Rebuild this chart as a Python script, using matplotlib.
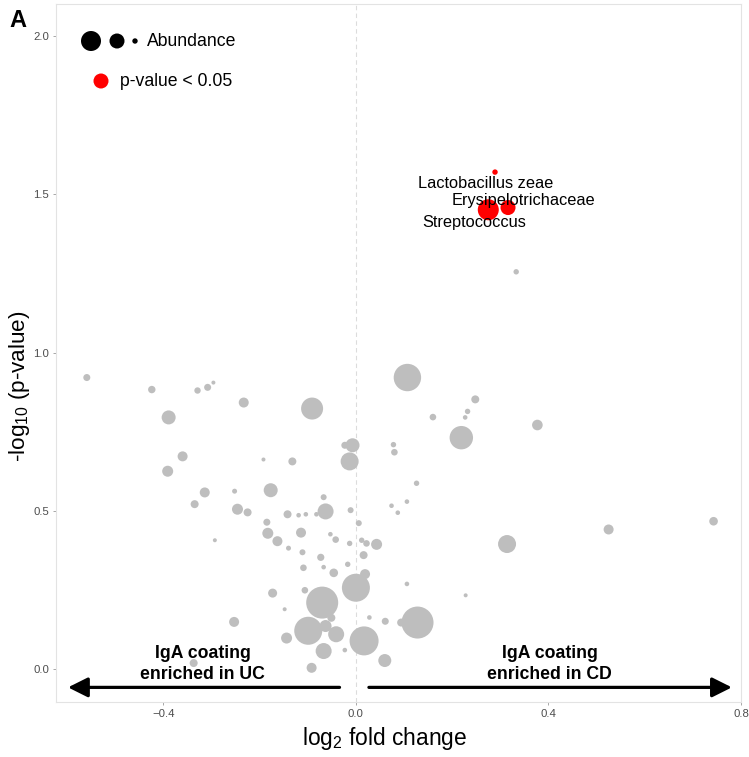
import matplotlib
matplotlib.use("Agg")
import matplotlib.pyplot as plt
import numpy as np

plt.rcParams['font.family'] = ['Liberation Sans', 'DejaVu Sans']

# ---- data: non-significant taxa (gray) ----
log2fc = [-0.559, -0.424, -0.329, -0.308, -0.296, -0.233, -0.091, -0.389, -0.360, -0.391,
          -0.192, -0.132, -0.023, -0.007, -0.013, -0.314, -0.335, -0.252, -0.177, -0.067,
          -0.246, -0.225, -0.142, -0.119, -0.104, -0.082, -0.063, -0.011, 0.006, -0.185,
          -0.183, -0.163, -0.114, -0.053, -0.042, -0.013, -0.293, -0.140, -0.111, -0.073,
          0.012, 0.022, 0.043, 0.016, -0.109, -0.067, -0.046, -0.017, 0.019, 0.000,
          -0.173, -0.106, -0.070, -0.051, -0.148, -0.253, -0.099, -0.063, -0.041, -0.144,
          -0.067, -0.092, -0.023, 0.017, 0.060, 0.028, 0.061, 0.094, 0.128, 0.106,
          0.228, -0.337, 0.107, 0.248, 0.232, 0.227, 0.160, 0.377, 0.219, 0.078,
          0.080, 0.126, 0.074, 0.106, 0.087, 0.525, 0.743, 0.314, 0.333]
neglog10p = [0.921, 0.883, 0.880, 0.890, 0.905, 0.842, 0.823, 0.795, 0.672, 0.625,
             0.662, 0.656, 0.707, 0.707, 0.656, 0.558, 0.521, 0.562, 0.565, 0.543,
             0.505, 0.495, 0.489, 0.486, 0.489, 0.489, 0.498, 0.502, 0.461, 0.464,
             0.429, 0.404, 0.431, 0.426, 0.409, 0.397, 0.407, 0.382, 0.369, 0.353,
             0.407, 0.397, 0.394, 0.360, 0.320, 0.322, 0.304, 0.331, 0.300, 0.257,
             0.240, 0.249, 0.210, 0.162, 0.189, 0.149, 0.121, 0.136, 0.110, 0.098,
             0.057, 0.004, 0.060, 0.089, 0.027, 0.163, 0.151, 0.147, 0.147, 0.269,
             0.233, 0.019, 0.921, 0.852, 0.814, 0.795, 0.796, 0.771, 0.731, 0.709,
             0.685, 0.587, 0.516, 0.529, 0.494, 0.441, 0.467, 0.395, 1.255]
abundance = [0.77, 0.86, 0.64, 0.77, 0.25, 1.56, 7.56, 3.06, 1.56, 1.89,
             0.25, 1.00, 0.77, 3.06, 5.06, 1.56, 1.00, 0.39, 3.06, 0.56,
             1.89, 1.00, 1.00, 0.33, 0.33, 0.33, 4.00, 0.56, 0.56, 0.77,
             1.89, 1.56, 1.56, 0.33, 0.68, 0.46, 0.25, 0.39, 0.56, 0.81,
             0.46, 0.68, 1.89, 1.00, 0.68, 0.33, 1.16, 0.46, 1.56, 12.25,
             1.27, 0.68, 16.00, 1.00, 0.25, 1.56, 12.25, 2.25, 4.00, 1.89,
             4.00, 1.56, 0.33, 13.14, 2.64, 0.33, 0.77, 1.00, 16.00, 0.33,
             0.25, 1.00, 11.73, 1.00, 0.46, 0.33, 0.68, 1.76, 8.56, 0.46,
             0.68, 0.46, 0.33, 0.33, 0.33, 1.56, 1.16, 5.06, 0.46]

# ---- significant taxa (red) ----
sig_names = ['Lactobacillus zeae', 'Streptococcus', 'Erysipelotrichaceae']
sig_log2fc = [0.289, 0.275, 0.316]
sig_neglog10p = [1.570, 1.451, 1.458]
sig_abundance = [0.46, 6.89, 3.52]

# label positions (data coords)
label_x = [0.2686, 0.2468, 0.3486]
label_y = [1.5205, 1.398, 1.4647]

x_ticks = [-0.4, 0.0, 0.4, 0.8]
y_ticks = [0.0, 0.5, 1.0, 1.5, 2.0]

SIZE_K = 33.2  # points^2 per abundance unit

fig = plt.figure(figsize=(7.49, 7.57), dpi=100)
ax = fig.add_axes([56/749, 1-702/757, (741-56)/749, (702-4)/757])

ax.axvline(0, color='#dcdcdc', lw=0.8, ls=(0, (4, 3)), zorder=0)

ax.scatter(log2fc, neglog10p, s=np.array(abundance)*SIZE_K, color='#bebebe',
           edgecolors='none', zorder=2)
ax.scatter(sig_log2fc, sig_neglog10p, s=np.array(sig_abundance)*SIZE_K, color='#ff0000',
           edgecolors='none', zorder=3)
for name, lx, ly in zip(sig_names, label_x, label_y):
    ax.text(lx, ly, name, ha='center', va='baseline', fontsize=11.8, color='black', zorder=4)

ax.set_xlim(-0.623, 0.80)
ax.set_ylim(-0.104, 2.101)
ax.set_xticks(x_ticks)
ax.set_xticklabels(['\u22120.4', '0.0', '0.4', '0.8'])
ax.set_yticks(y_ticks)
ax.set_yticklabels(['0.0', '0.5', '1.0', '1.5', '2.0'])
ax.tick_params(axis='both', labelsize=8.2, labelcolor='#4d4d4d', color='#999999',
               length=2.5, width=0.6, pad=2.5)
for sp in ax.spines.values():
    sp.set_color('#e3e3e3')
    sp.set_linewidth(0.8)

# arrows
arrow_y = -0.0578
ax.annotate('', xy=(-0.598, arrow_y), xytext=(-0.034, arrow_y),
            arrowprops=dict(arrowstyle='-|>,head_length=0.6,head_width=0.3',
                            lw=2.3, color='black', shrinkA=0, shrinkB=0,
                            mutation_scale=20))
ax.annotate('', xy=(0.781, arrow_y), xytext=(0.027, arrow_y),
            arrowprops=dict(arrowstyle='-|>,head_length=0.6,head_width=0.3',
                            lw=2.3, color='black', shrinkA=0, shrinkB=0,
                            mutation_scale=20))
ax.text(-0.318, 0.0338, 'IgA coating', ha='center', va='baseline', fontsize=12.7,
        fontweight='bold')
ax.text(-0.318, -0.0315, 'enriched in UC', ha='center', va='baseline', fontsize=12.7,
        fontweight='bold')
ax.text(0.4025, 0.0338, 'IgA coating', ha='center', va='baseline', fontsize=12.7,
        fontweight='bold')
ax.text(0.4025, -0.0315, 'enriched in CD', ha='center', va='baseline', fontsize=12.7,
        fontweight='bold')

# legend (custom, in axes coordinates)
leg_y1 = (702-41)/698
ax.scatter([(91-56)/685, (117-56)/685, (135-56)/685], [leg_y1]*3,
           s=[(1.44*10)**2, (1.44*7.5)**2, (1.44*2.7)**2], color='black',
           edgecolors='none', transform=ax.transAxes, clip_on=False, zorder=5)
ax.text((147-56)/685, leg_y1, 'Abundance', transform=ax.transAxes, ha='left',
        va='center', fontsize=12.7)
leg_y2 = (702-81)/698
ax.scatter([(101-56)/685], [leg_y2], s=[(1.44*7.5)**2], color='#ff0000',
           edgecolors='none', transform=ax.transAxes, clip_on=False, zorder=5)
ax.text((120-56)/685, leg_y2, 'p-value < 0.05', transform=ax.transAxes, ha='left',
        va='center', fontsize=12.7)

# axis labels
fig.text(384.5/749, 1-739/757, r'$\mathregular{log_2}$ fold change', ha='center',
         va='center', fontsize=16.4)
fig.text(20/749, 1-386/757, r'-$\mathregular{log_{10}}$ (p-value)', ha='center',
         va='center', rotation=90, fontsize=16.2)

# panel tag
fig.text(9/749, 1-27/757, 'A', ha='left', va='baseline', fontsize=17, fontweight='bold')

fig.savefig('out.png', dpi=100)
